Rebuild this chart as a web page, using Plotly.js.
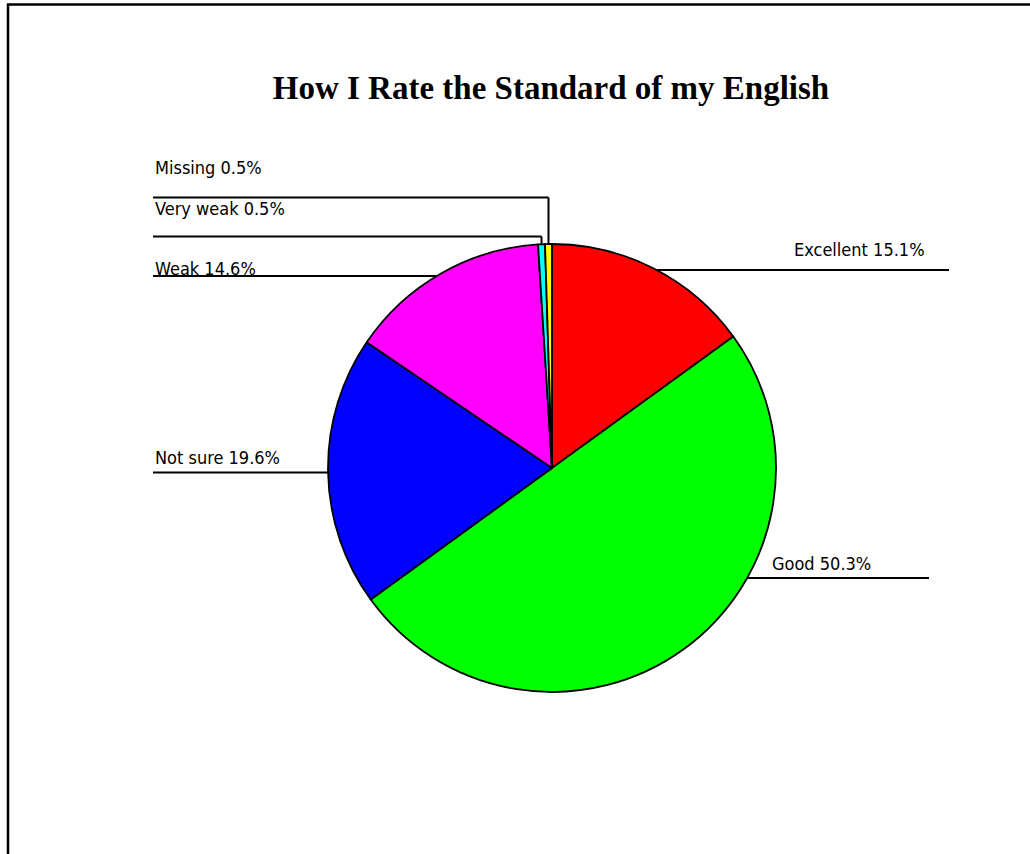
<!DOCTYPE html>
<html>
<head>
<meta charset="utf-8">
<script src="https://cdn.plot.ly/plotly-3.0.1.min.js"></script>
<style>
  html, body { margin: 0; padding: 0; background: #ffffff; }
  #chart { width: 1030px; height: 854px; }
</style>
</head>
<body>
<div id="chart"></div>
<script>
// ---- data ----
const categories = ['Excellent', 'Good', 'Not sure', 'Weak', 'Very weak', 'Missing'];
const percents   = [15.1, 50.3, 19.6, 14.6, 0.5, 0.5];
const sliceColors = ['#FF0000', '#00FF00', '#0000FF', '#FF00FF', '#00FFFF', '#FFFF00'];
const chartTitle = 'How I Rate the Standard of my English';

// ---- layout geometry (pixels) ----
const W = 1030, H = 854;
const cx = 552, cy = 468, R = 224;
// label placement: side, text anchor x, text centre y, leader line y, line far end x
const placement = {
  'Excellent': { side: 'right', tx: 927, ty: 249, ly: 270, lx: 949, anchor: 'right' },
  'Good':      { side: 'right', tx: 770, ty: 563, ly: 578, lx: 929, anchor: 'left' },
  'Not sure':  { side: 'left',  tx: 153, ty: 457, ly: 472.5, lx: 153, anchor: 'left' },
  'Weak':      { side: 'left',  tx: 153, ty: 268, ly: 276, lx: 153, anchor: 'left' },
  'Very weak': { side: 'top',   tx: 153, ty: 209, ly: 236.5, lx: 153, anchor: 'left' },
  'Missing':   { side: 'top',   tx: 153, ty: 167, ly: 197.5, lx: 153, anchor: 'left' }
};

const px = x => x / W;
const py = y => 1 - y / H;

const total = percents.reduce((a, b) => a + b, 0);
const annotations = [];
const shapes = [];
const lineStyle = { color: '#000000', width: 2 };

let cum = 0;
categories.forEach((cat, i) => {
  const mid = (cum + percents[i] / 2) / total * 2 * Math.PI; // clockwise from 12 o'clock
  cum += percents[i];
  const p = placement[cat];
  annotations.push({
    xref: 'paper', yref: 'paper',
    x: px(p.tx), y: py(p.ty),
    xanchor: p.anchor, yanchor: 'middle',
    text: cat + ' ' + percents[i].toFixed(1) + '%',
    showarrow: false,
    font: { family: 'DejaVu Sans Condensed, DejaVu Sans, Liberation Sans, sans-serif', size: 18, color: '#000000' }
  });
  if (p.side === 'top') {
    const ex = cx + R * Math.sin(mid);
    const ey = cy - Math.sqrt(R * R - (ex - cx) * (ex - cx));
    shapes.push({ type: 'line', xref: 'paper', yref: 'paper', x0: px(p.lx), y0: py(p.ly), x1: px(ex), y1: py(p.ly), line: lineStyle });
    shapes.push({ type: 'line', xref: 'paper', yref: 'paper', x0: px(ex), y0: py(p.ly), x1: px(ex), y1: py(ey), line: lineStyle });
  } else {
    const dx = Math.sqrt(Math.max(0, R * R - (p.ly - cy) * (p.ly - cy)));
    const ex = p.side === 'left' ? cx - dx : cx + dx;
    shapes.push({ type: 'line', xref: 'paper', yref: 'paper', x0: px(p.lx), y0: py(p.ly), x1: px(ex), y1: py(p.ly), line: lineStyle });
  }
});

// frame lines (top and left)
shapes.push({ type: 'line', xref: 'paper', yref: 'paper', x0: px(7), y0: py(4.5), x1: px(1030), y1: py(4.5), line: { color: '#000000', width: 2.5 } });
shapes.push({ type: 'line', xref: 'paper', yref: 'paper', x0: px(8), y0: py(4), x1: px(8), y1: py(854), line: { color: '#000000', width: 2.5 } });

const trace = {
  type: 'pie',
  labels: categories,
  values: percents,
  sort: false,
  direction: 'clockwise',
  rotation: 0,
  textinfo: 'none',
  hoverinfo: 'none',
  showlegend: false,
  marker: { colors: sliceColors, line: { color: '#000000', width: 1.8 } },
  domain: { x: [px(cx - R), px(cx + R)], y: [py(cy + R), py(cy - R)] }
};

const layout = {
  width: W, height: H,
  margin: { l: 0, r: 0, t: 0, b: 0 },
  paper_bgcolor: '#ffffff',
  plot_bgcolor: '#ffffff',
  title: {
    text: '<b>' + chartTitle + '</b>',
    x: px(551), xanchor: 'center',
    y: py(87), yanchor: 'middle',
    font: { family: 'Liberation Serif, Times New Roman, serif', size: 33, color: '#000000' }
  },
  annotations: annotations,
  shapes: shapes
};

Plotly.newPlot('chart', [trace], layout, { displayModeBar: false, staticPlot: true });
</script>
</body>
</html>
